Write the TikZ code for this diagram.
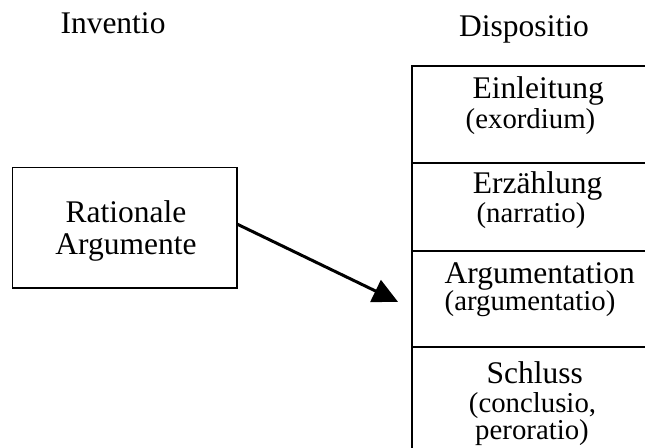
\documentclass[tikz,border=0pt]{standalone}
\usepackage{fontspec}
\setmainfont{Liberation Serif}
\usetikzlibrary{arrows.meta,calc}

\newcommand\mainsz{\fontsize{31.5}{34}\selectfont}
\newcommand\subsz{\fontsize{28.8}{31}\selectfont}

\tikzset{
  frame/.style={draw=black, line width=1.9pt, inner sep=0pt, outer sep=0pt},
  section/.style={frame, minimum width=248pt},
  heading/.style={inner sep=0pt, anchor=base, font=\mainsz},
  latin/.style={inner sep=0pt, anchor=base, font=\subsz},
  link/.style={line width=3pt, -{Triangle[length=25pt, width=24pt]}}
}

\begin{document}
\begin{tikzpicture}[x=1pt, y=-1pt]
  \useasboundingbox (0,0) rectangle (645,447);
  \clip (0,0) rectangle (645,447);

  % column headings
  \node[heading] (inv) at (113,33) {Inventio};
  \node[heading] (disp) at (524,36) {Dispositio};

  % rational arguments box
  \node[frame, minimum width=224.5pt, minimum height=120.5pt] (ra) at (124.75,227.75) {};
  \node[heading] (ra1) at (126,222.7) {Rationale};
  \node[heading] (ra2) at (126,254.3) {Argumente};

  % stacked parts of the speech (open to the right and below)
  \node[section, minimum height=96.7pt]  (s1) at (536,114.35) {};
  \node[section, minimum height=88.3pt]  (s2) at (536,206.85) {};
  \node[section, minimum height=95.7pt]  (s3) at (536,298.85) {};
  \node[section, minimum height=123.3pt] (s4) at (536,408.35) {};

  \node[heading] (s1a) at (538.3,98)  {Einleitung};
  \node[latin]   (s1b) at (530.5,128) {(exordium)};

  \node[heading] (s2a) at (537.7,193.3) {Erzählung};
  \node[latin]   (s2b) at (531,222)     {(narratio)};

  \node[heading] (s3a) at (539.8,283)   {Argumentation};
  \node[latin]   (s3b) at (530,310.5)   {(argumentatio)};

  \node[heading] (s4a) at (534.7,383.3) {Schluss};
  \node[latin]   (s4b) at (532.5,412)   {(conclusio,};
  \node[latin]   (s4c) at (532,439.5)   {peroratio)};

  % arrow from the arguments to the argumentation part
  \coordinate (tip) at ($(s3.west)+(-14,3)$);
  \draw[link] ($(ra.east)+(0,-3.7)$) -- (tip);
\end{tikzpicture}
\end{document}
